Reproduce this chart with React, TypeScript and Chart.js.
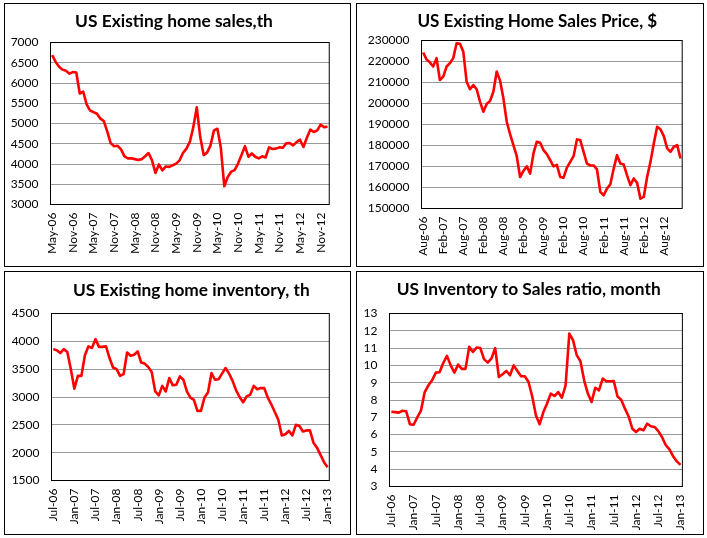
import React, { useEffect, useRef } from "react";
import { Chart, registerables } from "chart.js";

Chart.register(...registerables);

// ---------- data ----------
const months = [
  "May-06", "Jun-06", "Jul-06", "Aug-06", "Sep-06", "Oct-06", "Nov-06", "Dec-06",
  "Jan-07", "Feb-07", "Mar-07", "Apr-07", "May-07", "Jun-07", "Jul-07", "Aug-07", "Sep-07", "Oct-07", "Nov-07", "Dec-07",
  "Jan-08", "Feb-08", "Mar-08", "Apr-08", "May-08", "Jun-08", "Jul-08", "Aug-08", "Sep-08", "Oct-08", "Nov-08", "Dec-08",
  "Jan-09", "Feb-09", "Mar-09", "Apr-09", "May-09", "Jun-09", "Jul-09", "Aug-09", "Sep-09", "Oct-09", "Nov-09", "Dec-09",
  "Jan-10", "Feb-10", "Mar-10", "Apr-10", "May-10", "Jun-10", "Jul-10", "Aug-10", "Sep-10", "Oct-10", "Nov-10", "Dec-10",
  "Jan-11", "Feb-11", "Mar-11", "Apr-11", "May-11", "Jun-11", "Jul-11", "Aug-11", "Sep-11", "Oct-11", "Nov-11", "Dec-11",
  "Jan-12", "Feb-12", "Mar-12", "Apr-12", "May-12", "Jun-12", "Jul-12", "Aug-12", "Sep-12", "Oct-12", "Nov-12", "Dec-12",
  "Jan-13",
];
const salesLabels = months; // May-06 .. Jan-13
const priceLabels = months.slice(3); // Aug-06 .. Jan-13
const inventoryLabels = months.slice(2); // Jul-06 .. Jan-13
const ratioLabels = months.slice(2); // Jul-06 .. Jan-13

const salesValues = [
  6690, 6520, 6400, 6330, 6300, 6230, 6270, 6260,
  5740, 5790, 5470, 5320, 5280, 5240, 5120, 5060, 4800, 4510, 4440, 4450,
  4360, 4190, 4140, 4140, 4120, 4100, 4120, 4190, 4270, 4090, 3780, 3990,
  3840, 3940, 3930, 3970, 4010, 4090, 4270, 4380, 4550, 4910, 5400, 4670,
  4220, 4280, 4460, 4830, 4870, 4400, 3450, 3680, 3810, 3850, 4010, 4220,
  4440, 4180, 4260, 4180, 4140, 4190, 4160, 4410, 4370, 4380, 4410, 4400,
  4510, 4520, 4460, 4540, 4600, 4420, 4650, 4850, 4790, 4830, 4970, 4910,
  4920,
];

const priceValues = [
  224300, 221000, 219600, 217600, 221600,
  211200, 212800, 217600, 219200, 221600, 228700, 228400, 224700, 210400, 206800, 208800, 206800,
  200900, 196100, 199800, 201200, 205600, 215200, 210900, 202500, 191300, 185400, 180200, 174900,
  165000, 167900, 170100, 166600, 176200, 181800, 181300, 177800, 175900, 173000, 170100, 170800,
  165000, 164700, 169500, 172200, 174900, 182900, 182600, 177000, 171400, 170500, 170500, 168600,
  157900, 156300, 159500, 161500, 169000, 175400, 171400, 170900, 165800, 161100, 164300, 162200,
  154700, 155500, 165000, 172200, 181000, 188900, 187700, 184500, 178600, 177000, 179400, 180200,
  173800,
];

const inventoryValues = [
  3860, 3840, 3790, 3860, 3810, 3500,
  3150, 3380, 3380, 3750, 3910, 3880, 4040, 3900, 3900, 3910, 3700, 3530,
  3500, 3380, 3410, 3800, 3740, 3760, 3820, 3620, 3600, 3540, 3450, 3100,
  3030, 3200, 3100, 3340, 3210, 3220, 3370, 3310, 3100, 2990, 2950, 2750,
  2750, 2990, 3080, 3430, 3310, 3320, 3420, 3520, 3420, 3290, 3120, 3000,
  2905, 3010, 3040, 3200, 3140, 3160, 3160, 2990, 2870, 2730, 2590, 2310,
  2330, 2390, 2310, 2500, 2480, 2380, 2400, 2400, 2180, 2090, 1960, 1830,
  1740,
];

const ratioValues = [
  7.32, 7.3, 7.27, 7.38, 7.35, 6.6,
  6.57, 7.0, 7.4, 8.46, 8.85, 9.14, 9.58, 9.6, 10.14, 10.55, 10.0, 9.58,
  10.05, 9.8, 9.8, 11.07, 10.78, 11.03, 11.0, 10.36, 10.16, 10.4, 11.0, 9.33,
  9.49, 9.68, 9.43, 10.0, 9.68, 9.37, 9.37, 9.04, 8.2, 7.1, 6.6, 7.3,
  7.8, 8.37, 8.23, 8.46, 8.13, 8.85, 11.84, 11.46, 10.59, 10.24, 9.14, 8.37,
  7.88, 8.71, 8.56, 9.24, 9.08, 9.08, 9.1, 8.2, 8.02, 7.5, 7.05, 6.34,
  6.15, 6.34, 6.25, 6.63, 6.48, 6.44, 6.2, 5.86, 5.4, 5.15, 4.75, 4.45,
  4.25,
];

const salesTicks = { min: 3000, max: 7000, step: 500 };
const priceTicks = { min: 150000, max: 230000, step: 10000 };
const inventoryTicks = { min: 1500, max: 4500, step: 500 };
const ratioTicks = { min: 3, max: 13, step: 1 };

const titles = [
  "US Existing home sales,th",
  "US Existing Home Sales Price, $",
  "US Existing home inventory, th",
  "US Inventory to Sales ratio, month",
];

// ---------- layout / style ----------
const FONT = "Lato, 'Noto Sans', 'DejaVu Sans', sans-serif";

type Area = { left: number; top: number; right: number; bottom: number };
type Spec = {
  box: { left: number; top: number; width: number; height: number };
  area: Area;
  title: string;
  titleX: number;
  titleY: number;
  titleW: number;
  labels: string[];
  values: number[];
  ticks: { min: number; max: number; step: number };
};

const specs: Spec[] = [
  {
    box: { left: 4, top: 3, width: 347, height: 264 },
    area: { left: 45.5, top: 38.5, right: 333.5, bottom: 200.5 },
    title: titles[0], titleX: 169, titleY: 23.3, titleW: 198,
    labels: salesLabels, values: salesValues, ticks: salesTicks,
  },
  {
    box: { left: 356, top: 3, width: 348, height: 264 },
    area: { left: 64.5, top: 36.5, right: 335.5, bottom: 204.5 },
    title: titles[1], titleX: 180.3, titleY: 22.7, titleW: 240,
    labels: priceLabels, values: priceValues, ticks: priceTicks,
  },
  {
    box: { left: 4, top: 271, width: 347, height: 264 },
    area: { left: 46.5, top: 41.5, right: 334.5, bottom: 208.5 },
    title: titles[2], titleX: 186.3, titleY: 24.3, titleW: 237,
    labels: inventoryLabels, values: inventoryValues, ticks: inventoryTicks,
  },
  {
    box: { left: 356, top: 271, width: 348, height: 264 },
    area: { left: 32.5, top: 41.5, right: 335.5, bottom: 214.5 },
    title: titles[3], titleX: 171.7, titleY: 23.3, titleW: 264,
    labels: ratioLabels, values: ratioValues, ticks: ratioTicks,
  },
];

function Panel({ spec }: { spec: Spec }) {
  const ref = useRef<HTMLCanvasElement | null>(null);
  const W = spec.box.width - 2;
  const H = spec.box.height - 2;

  useEffect(() => {
    const canvas = ref.current;
    if (!canvas) return;
    const a = spec.area;

    const decor = {
      id: "decor",
      beforeDatasetsDraw(chart: any) {
        const { ctx, chartArea } = chart;
        ctx.save();
        ctx.strokeStyle = "#000";
        ctx.lineWidth = 1;
        ctx.strokeRect(
          chartArea.left,
          chartArea.top,
          chartArea.right - chartArea.left,
          chartArea.bottom - chartArea.top
        );
        ctx.restore();
      },
      afterDraw(chart: any) {
        const ctx = chart.ctx;
        ctx.save();
        ctx.font = `bold 20px ${FONT}`;
        const w = ctx.measureText(spec.title).width;
        const size = (20 * spec.titleW) / w;
        ctx.font = `bold ${size}px ${FONT}`;
        ctx.fillStyle = "#000";
        ctx.textAlign = "center";
        ctx.textBaseline = "alphabetic";
        ctx.fillText(spec.title, spec.titleX, spec.titleY);
        ctx.restore();
      },
    };

    const chart = new Chart(canvas, {
      type: "line",
      data: {
        labels: spec.labels,
        datasets: [
          {
            data: spec.values,
            borderColor: "#FF0000",
            borderWidth: 2.6,
            pointRadius: 0,
            tension: 0,
            fill: false,
            borderJoinStyle: "round",
            clip: false as any,
          },
        ],
      },
      options: {
        animation: false,
        responsive: false,
        maintainAspectRatio: false,
        events: [],
        layout: {
          padding: { top: a.top, right: W - a.right, bottom: 0, left: 0 },
        },
        plugins: {
          legend: { display: false },
          tooltip: { enabled: false },
          title: { display: false },
        },
        scales: {
          x: {
            type: "category",
            offset: true,
            grid: { display: false, drawTicks: false },
            border: { display: false },
            ticks: {
              autoSkip: false,
              maxRotation: 90,
              minRotation: 90,
              padding: 8,
              color: "#000",
              font: { family: FONT, size: 12 },
              callback: (_v: any, i: number) => (i % 6 === 0 ? spec.labels[i] : ""),
            },
            afterFit: (s: any) => {
              s.height = H - a.bottom;
            },
          },
          y: {
            type: "linear",
            min: spec.ticks.min,
            max: spec.ticks.max,
            grid: { color: "#999999", lineWidth: 1, drawTicks: false },
            border: { display: false },
            ticks: {
              stepSize: spec.ticks.step,
              autoSkip: false,
              padding: 12,
              color: "#000",
              font: { family: FONT, size: 12 },
              callback: (v: any) => String(v),
            },
            afterFit: (s: any) => {
              s.width = a.left;
            },
          },
        },
      },
      plugins: [decor],
    } as any);

    return () => chart.destroy();
  }, [spec, W, H]);

  return (
    <div
      style={{
        position: "absolute",
        left: spec.box.left,
        top: spec.box.top,
        width: spec.box.width,
        height: spec.box.height,
        border: "1px solid #000",
        boxSizing: "border-box",
        background: "#fff",
      }}
    >
      <canvas ref={ref} width={W} height={H} style={{ display: "block", width: W, height: H }} />
    </div>
  );
}

export default function App() {
  return (
    <div
      style={{
        position: "absolute",
        left: 0,
        top: 0,
        width: 707,
        height: 538,
        background: "#fff",
        overflow: "hidden",
      }}
    >
      {specs.map((s, i) => (
        <Panel key={i} spec={s} />
      ))}
    </div>
  );
}
